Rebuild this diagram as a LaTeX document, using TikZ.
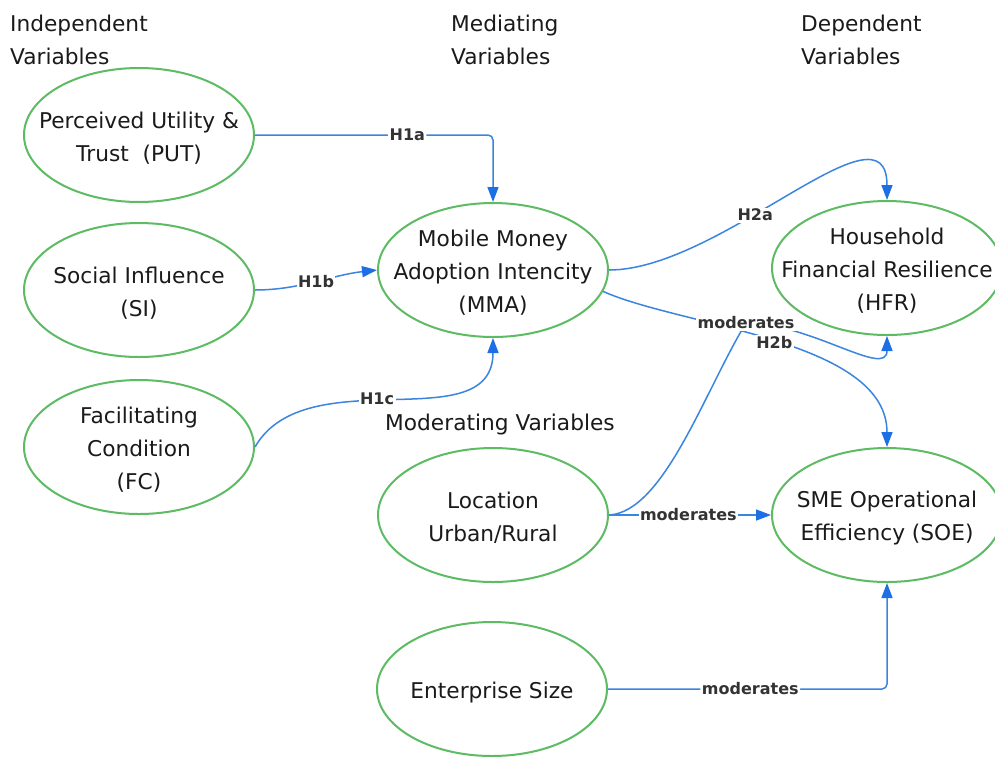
\documentclass[tikz,border=0pt]{standalone}
\usepackage{fontspec}
\setmainfont{DejaVu Sans}
\usetikzlibrary{shapes.geometric,arrows.meta}

\definecolor{vgreen}{HTML}{5DBB63}
\definecolor{lnblue}{HTML}{3A85E0}
\definecolor{tipblue}{HTML}{1D6FE6}
\definecolor{ink}{HTML}{1A1A1A}
\definecolor{lblink}{HTML}{333333}

\begin{document}
\begin{tikzpicture}[x=1pt,y=-1pt,
  var/.style={ellipse, draw=vgreen, line width=2pt, fill=white,
    minimum width=230pt, minimum height=134pt, inner sep=0pt},
  vtext/.style={align=center, text=ink, inner sep=0pt, yshift=-3pt,
    font=\fontsize{21.7}{33}\selectfont},
  hdr/.style={text=ink, inner sep=0pt, anchor=base west,
    font=\fontsize{21.7}{33}\selectfont},
  edge/.style={draw=lnblue, line width=1.5pt,
    -{Triangle[length=15pt,width=11pt,color=tipblue]}},
  lbl/.style={fill=white, text=lblink, inner sep=1.5pt,
    font=\fontsize{16}{19}\selectfont\bfseries},
]
% canvas
\fill[white] (0,0) rectangle (995,756);
\useasboundingbox (0,0) rectangle (995,756);

% column headings
\node[hdr] (hIndA) at (10,31) {Independent};
\node[hdr] (hIndB) at (10,64) {Variables};
\node[hdr] (hMedA) at (451,31) {Mediating};
\node[hdr] (hMedB) at (451,64) {Variables};
\node[hdr] (hDepA) at (801,31) {Dependent};
\node[hdr] (hDepB) at (801,64) {Variables};
\node[hdr] (hMod) at (385,430) {Moderating Variables};

% variables
\node[var, label={[vtext]center:{Perceived Utility \&\\Trust~~(PUT)}}] (put) at (139,135) {};
\node[var, label={[vtext]center:{Social Influence\\(SI)}}] (si) at (139,290) {};
\node[var, label={[vtext]center:{Facilitating\\Condition\\(FC)}}] (fc) at (139,447) {};
\node[var, label={[vtext]center:{Mobile Money\\Adoption Intencity\\(MMA)}}] (mma) at (493,270) {};
\node[var, label={[vtext]center:{Household\\Financial Resilience\\(HFR)}}] (hfr) at (887,268) {};
\node[var, label={[vtext]center:{SME Operational\\Efficiency (SOE)}}] (soe) at (887,515) {};
\node[var, label={[vtext]center:{Location\\Urban/Rural}}] (loc) at (493,515) {};
\node[var, label={[vtext]center:{Enterprise Size}}] (ent) at (492,689) {};

% hypotheses
\draw[edge, rounded corners=5pt] (put.east) -| node[lbl, pos=0.32] {H1a} (mma.north);
\draw[edge] (si.east) .. controls +(45,0) and +(-45,5) .. node[lbl, pos=0.5] {H1b} (mma.west);
\draw[edge] (fc.east) .. controls +(51,-89) and +(0,103) .. node[lbl, pos=0.45] {H1c} (mma.south);
\draw[edge] (mma.east) .. controls +(112,0) and +(0,-105) .. node[lbl, pos=0.4] {H2a} (hfr.north);
\draw[edge] (mma.-11) .. controls +(78,35) and +(0,-107) .. node[lbl, pos=0.5] {H2b} (soe.north);

% moderating effects
\draw[edge] (loc.east) .. controls +(55,-3) and +(-41,67) .. (746,323) node[lbl] {moderates}
  .. controls +(65,0) and +(0,43) .. (hfr.south);
\draw[edge] (loc.east) -- node[lbl, pos=0.49] {moderates} (soe.west);
\draw[edge, rounded corners=5pt] (ent.east) -| node[lbl, pos=0.255] {moderates} (soe.south);
\end{tikzpicture}
\end{document}
